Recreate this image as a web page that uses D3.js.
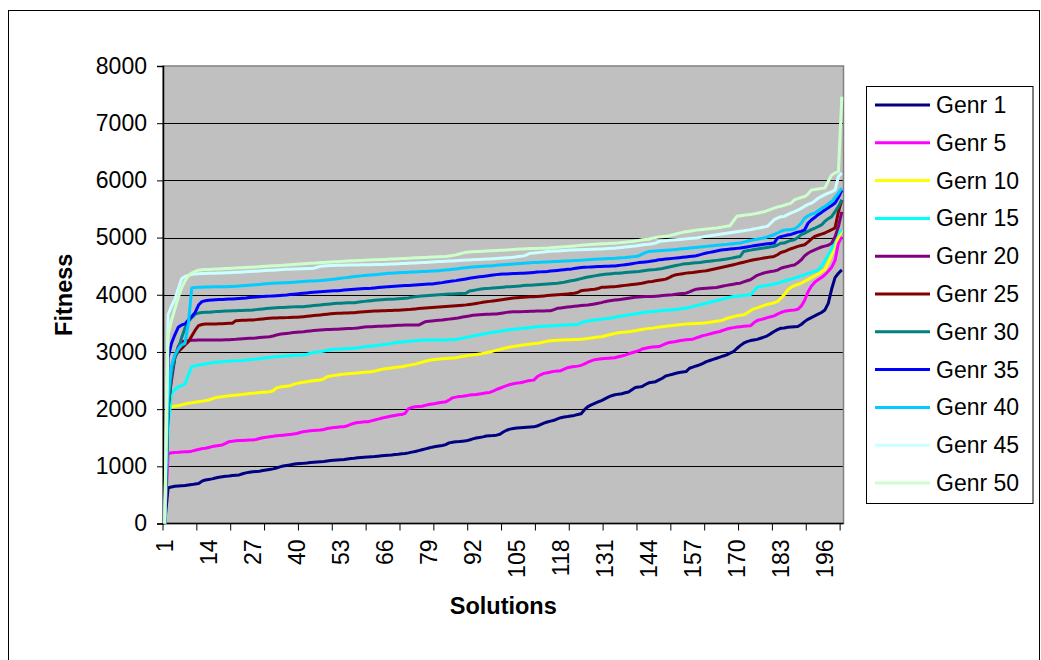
<!DOCTYPE html>
<html><head><meta charset="utf-8">
<script src="https://cdn.jsdelivr.net/npm/d3@7"></script>
<style>
body{margin:0;background:#fff}
svg{display:block}
text{font-family:Arial,"Liberation Sans",sans-serif;fill:#000}
</style>
</head><body>
<svg id="c" width="1041" height="660"></svg>
<script>
const seriesNames = ["Genr 1","Genr 5","Gern 10","Genr 15","Genr 20","Genr 25","Genr 30","Genr 35","Genr 40","Genr 45","Genr 50"];
const seriesColors = ["#000080","#FF00FF","#FFFF00","#00FFFF","#800080","#800000","#008080","#0000FF","#00CCFF","#CCFFFF","#CCFFCC"];
const yTicks = [0,1000,2000,3000,4000,5000,6000,7000,8000];
const xLabels = [1,14,27,40,53,66,79,92,105,118,131,144,157,170,183,196];
const xTickCats = [1,11,21,31,41,51,61,71,81,91,101,111,121,131,141,151,161,171,181,191,201];

const g1 = [0,620,640,650,655,660,665,673,680,690,
700,740,761,770,780,795,810,819,825,830,
838,845,850,870,885,895,905,910,915,925,
935,945,955,970,990,1005,1015,1025,1035,1045,
1050,1053,1058,1065,1070,1075,1080,1085,1092,1100,
1105,1110,1115,1120,1128,1135,1140,1148,1155,1160,
1165,1168,1172,1178,1185,1190,1195,1198,1205,1210,
1218,1225,1235,1248,1260,1275,1290,1305,1320,1335,
1345,1355,1365,1380,1410,1420,1428,1432,1438,1445,
1460,1480,1495,1505,1515,1530,1535,1537,1545,1560,
1600,1631,1650,1660,1668,1675,1680,1685,1688,1690,
1705,1730,1755,1775,1790,1805,1830,1850,1862,1870,
1880,1890,1905,1920,1990,2045,2075,2100,2125,2150,
2180,2210,2235,2250,2262,2270,2285,2300,2340,2378,
2385,2395,2430,2460,2470,2480,2510,2540,2580,2595,
2610,2627,2640,2650,2656,2715,2735,2755,2773,2800,
2831,2850,2870,2890,2910,2930,2948,2980,3007,3060,
3110,3153,3180,3199,3210,3220,3240,3260,3281,3320,
3357,3390,3414,3420,3430,3435,3440,3445,3480,3530,
3570,3600,3630,3660,3690,3734,3850,4100,4300,4376,
4434];
const g5 = [0,1220,1238,1242,1245,1250,1253,1256,1265,1280,
1295,1310,1315,1330,1345,1355,1365,1373,1400,1431,
1440,1445,1450,1452,1455,1458,1460,1470,1485,1500,
1510,1518,1525,1535,1540,1545,1550,1558,1565,1575,
1590,1606,1615,1620,1625,1630,1635,1645,1660,1670,
1678,1685,1690,1693,1710,1735,1752,1765,1772,1778,
1780,1795,1810,1825,1840,1855,1868,1880,1890,1900,
1905,1927,2010,2030,2040,2045,2051,2065,2080,2090,
2098,2110,2120,2127,2160,2197,2210,2220,2226,2235,
2245,2250,2256,2265,2275,2285,2291,2315,2343,2365,
2390,2410,2431,2445,2455,2460,2475,2490,2500,2507,
2565,2600,2625,2635,2650,2660,2668,2672,2700,2725,
2735,2745,2752,2765,2790,2820,2845,2865,2872,2880,
2885,2890,2894,2898,2915,2930,2945,2965,2985,3003,
3020,3050,3065,3079,3085,3090,3094,3120,3145,3165,
3175,3182,3195,3205,3212,3218,3223,3245,3265,3285,
3298,3315,3330,3345,3357,3380,3400,3415,3425,3435,
3442,3448,3452,3456,3510,3549,3565,3580,3600,3615,
3630,3660,3690,3710,3720,3728,3734,3745,3800,3900,
4050,4150,4220,4262,4300,4350,4410,4480,4600,4900,
5016];
const g10 = [0,2030,2040,2050,2060,2075,2090,2102,2110,2120,
2130,2140,2148,2160,2180,2200,2212,2218,2225,2232,
2240,2245,2250,2258,2265,2272,2277,2283,2290,2296,
2300,2305,2320,2370,2385,2395,2402,2410,2430,2450,
2460,2470,2480,2490,2497,2505,2510,2530,2565,2580,
2590,2597,2605,2612,2618,2622,2627,2633,2640,2645,
2650,2655,2665,2680,2695,2705,2712,2720,2728,2735,
2740,2755,2765,2775,2787,2805,2820,2838,2850,2862,
2869,2875,2880,2885,2890,2895,2898,2910,2922,2932,
2940,2945,2955,2965,2975,2986,3000,3015,3032,3045,
3060,3073,3085,3095,3105,3115,3122,3130,3138,3145,
3152,3162,3175,3188,3195,3200,3205,3208,3210,3212,
3214,3216,3218,3220,3228,3237,3245,3252,3260,3266,
3280,3295,3310,3324,3335,3342,3348,3354,3362,3372,
3383,3393,3403,3412,3415,3425,3435,3442,3450,3456,
3462,3470,3476,3482,3488,3491,3495,3498,3501,3503,
3510,3518,3528,3538,3544,3560,3585,3602,3618,3632,
3642,3649,3680,3720,3755,3770,3790,3815,3830,3845,
3860,3880,3940,4000,4080,4130,4160,4180,4200,4235,
4265,4300,4330,4360,4400,4440,4560,4700,4900,5000,
5135];
const g15 = [0,1700,2280,2335,2393,2410,2440,2600,2743,2760,
2770,2780,2790,2800,2810,2820,2825,2830,2835,2840,
2843,2845,2848,2852,2858,2865,2870,2875,2882,2890,
2898,2905,2910,2915,2920,2925,2930,2935,2940,2943,
2946,2948,2960,2975,2990,3000,3005,3015,3030,3040,
3045,3047,3052,3056,3060,3062,3064,3072,3080,3090,
3098,3104,3110,3118,3125,3132,3139,3150,3160,3168,
3175,3180,3188,3192,3196,3200,3204,3207,3208,3208,
3208,3208,3208,3208,3212,3216,3219,3230,3242,3255,
3266,3278,3290,3302,3314,3324,3335,3345,3354,3362,
3372,3383,3390,3396,3402,3408,3412,3420,3428,3436,
3441,3445,3449,3453,3456,3460,3463,3466,3469,3471,
3474,3477,3482,3510,3530,3540,3550,3558,3565,3573,
3580,3587,3595,3607,3618,3628,3638,3648,3656,3663,
3675,3686,3695,3704,3707,3712,3718,3724,3730,3734,
3736,3742,3750,3758,3765,3780,3795,3810,3824,3838,
3852,3868,3882,3898,3912,3928,3944,3958,3968,3975,
3981,3988,3994,3999,4060,4133,4145,4155,4165,4174,
4188,4200,4220,4240,4258,4270,4290,4310,4330,4349,
4370,4390,4410,4434,4500,4600,4700,4800,5000,5080,
5137];
const g20 = [0,2050,2500,2900,3093,3180,3190,3197,3203,3206,
3208,3209,3210,3210,3210,3210,3210,3210,3212,3215,
3218,3221,3226,3230,3235,3238,3240,3245,3252,3258,
3263,3267,3280,3295,3310,3318,3324,3330,3338,3345,
3350,3355,3362,3368,3374,3380,3384,3388,3391,3393,
3395,3396,3400,3404,3408,3412,3414,3420,3428,3435,
3440,3442,3445,3448,3450,3452,3454,3458,3462,3466,
3468,3470,3470,3470,3470,3470,3500,3529,3535,3542,
3548,3554,3558,3566,3574,3582,3587,3598,3610,3620,
3630,3640,3646,3650,3654,3658,3660,3662,3663,3672,
3682,3692,3700,3704,3704,3704,3705,3708,3710,3713,
3716,3717,3718,3720,3721,3740,3762,3770,3778,3785,
3792,3798,3804,3810,3815,3821,3830,3840,3850,3862,
3879,3890,3900,3908,3914,3920,3930,3940,3949,3955,
3960,3967,3968,3969,3970,3975,3980,3986,3992,3996,
3999,4008,4016,4022,4028,4050,4075,4098,4104,4110,
4115,4120,4124,4127,4140,4152,4164,4174,4184,4195,
4203,4225,4245,4262,4300,4340,4360,4380,4395,4405,
4415,4430,4463,4480,4495,4510,4521,4560,4609,4680,
4726,4760,4785,4810,4835,4850,4865,4900,5016,5191,
5450];
const g25 = [0,2000,2600,2918,3005,3060,3122,3180,3280,3380,
3460,3480,3489,3489,3490,3490,3492,3495,3498,3500,
3501,3547,3550,3552,3555,3557,3559,3565,3572,3578,
3584,3589,3592,3595,3597,3599,3600,3602,3605,3608,
3612,3617,3623,3630,3636,3642,3647,3653,3660,3666,
3672,3676,3678,3680,3683,3685,3687,3692,3697,3702,
3707,3711,3714,3717,3720,3722,3724,3726,3728,3730,
3733,3736,3740,3746,3752,3758,3764,3770,3774,3778,
3782,3786,3790,3795,3800,3805,3809,3813,3818,3823,
3830,3838,3848,3858,3867,3876,3884,3892,3900,3908,
3916,3926,3936,3944,3949,3953,3956,3960,3964,3967,
3970,3975,3980,3986,3991,3996,4000,4005,4010,4015,
4020,4025,4040,4072,4078,4084,4090,4095,4110,4130,
4133,4136,4139,4142,4150,4157,4164,4171,4178,4185,
4192,4200,4215,4229,4233,4243,4253,4263,4273,4300,
4330,4349,4358,4368,4378,4385,4390,4398,4406,4413,
4419,4432,4445,4458,4471,4484,4498,4512,4526,4540,
4554,4568,4583,4598,4612,4622,4632,4642,4652,4662,
4670,4700,4740,4755,4780,4805,4825,4846,4860,4875,
4920,4974,5020,5040,5060,5079,5110,5137,5170,5450,
5660];
const g30 = [0,2000,2600,2900,3050,3250,3420,3530,3600,3660,
3680,3688,3692,3696,3700,3705,3708,3711,3714,3717,
3719,3721,3723,3726,3729,3731,3734,3740,3746,3752,
3758,3763,3767,3771,3775,3779,3782,3785,3788,3790,
3791,3792,3798,3804,3810,3816,3822,3828,3834,3840,
3846,3851,3853,3855,3858,3860,3862,3870,3877,3884,
3891,3897,3902,3907,3912,3916,3920,3922,3925,3930,
3935,3940,3945,3955,3967,3972,3977,3982,3987,3992,
3996,4000,4004,4008,4012,4015,4018,4020,4022,4025,
4066,4075,4085,4095,4103,4110,4113,4118,4123,4128,
4133,4138,4142,4146,4150,4155,4160,4165,4168,4171,
4175,4180,4184,4188,4193,4197,4200,4210,4220,4232,
4245,4255,4268,4282,4296,4310,4320,4330,4340,4350,
4358,4363,4368,4374,4378,4382,4387,4392,4398,4404,
4408,4416,4425,4432,4436,4440,4450,4460,4472,4484,
4497,4510,4523,4536,4542,4548,4554,4560,4565,4572,
4580,4587,4594,4601,4609,4616,4624,4636,4648,4660,
4670,4758,4768,4780,4790,4799,4808,4818,4828,4838,
4846,4870,4900,4904,4930,4950,4962,5000,5050,5075,
5108,5140,5163,5190,5221,5283,5330,5366,5453,5540,
5660];
const g35 = [0,2900,3150,3300,3430,3472,3490,3560,3620,3690,
3820,3880,3895,3902,3908,3912,3915,3918,3921,3924,
3927,3930,3934,3938,3943,3950,3956,3960,3964,3968,
3972,3976,3980,3984,3988,3993,3997,4003,4009,4015,
4021,4026,4032,4038,4043,4049,4054,4058,4062,4066,
4070,4072,4076,4081,4086,4091,4096,4100,4104,4108,
4111,4114,4120,4126,4131,4136,4142,4146,4150,4153,
4156,4160,4163,4166,4170,4174,4178,4182,4186,4189,
4196,4204,4212,4222,4232,4240,4247,4257,4267,4277,
4287,4296,4305,4313,4321,4329,4337,4345,4352,4358,
4361,4364,4367,4370,4373,4375,4376,4381,4386,4391,
4396,4400,4404,4408,4414,4420,4426,4432,4438,4444,
4448,4458,4468,4475,4479,4483,4487,4491,4493,4495,
4497,4499,4501,4504,4511,4518,4525,4533,4543,4553,
4562,4568,4574,4580,4590,4600,4612,4618,4624,4630,
4636,4641,4648,4655,4662,4668,4675,4682,4698,4714,
4729,4741,4753,4765,4777,4787,4793,4799,4805,4811,
4816,4826,4836,4846,4856,4866,4875,4882,4890,4897,
4904,4992,5016,5030,5045,5055,5075,5095,5108,5133,
5250,5308,5350,5400,5440,5483,5520,5560,5604,5700,
5830];
const g40 = [0,2200,2750,2950,3050,3120,3151,3500,4120,4128,
4131,4133,4135,4137,4139,4140,4141,4142,4142,4143,
4145,4148,4152,4156,4161,4166,4171,4176,4181,4186,
4191,4196,4200,4204,4207,4210,4212,4215,4219,4223,
4227,4231,4235,4239,4242,4245,4247,4252,4258,4265,
4272,4280,4288,4295,4302,4310,4318,4325,4330,4335,
4340,4345,4350,4356,4362,4368,4374,4378,4382,4386,
4389,4391,4393,4396,4399,4402,4405,4408,4411,4414,
4416,4421,4427,4433,4439,4445,4451,4458,4466,4474,
4481,4485,4489,4493,4497,4501,4504,4509,4514,4519,
4524,4529,4533,4537,4541,4546,4550,4554,4558,4562,
4565,4568,4571,4574,4577,4580,4583,4586,4589,4592,
4595,4597,4601,4605,4609,4613,4617,4621,4624,4627,
4630,4633,4636,4638,4642,4646,4650,4656,4663,4670,
4679,4710,4738,4755,4760,4765,4770,4774,4778,4783,
4787,4793,4799,4805,4810,4816,4822,4828,4834,4840,
4846,4852,4858,4864,4870,4875,4881,4887,4893,4899,
4904,4920,4935,4950,4962,4972,4982,4992,5012,5032,
5050,5080,5110,5130,5137,5140,5150,5191,5250,5338,
5380,5410,5425,5470,5510,5541,5590,5629,5700,5775,
5865];
const g45 = [0,3650,3800,3920,4100,4280,4320,4340,4355,4365,
4368,4370,4372,4374,4376,4378,4380,4382,4384,4386,
4389,4392,4395,4398,4401,4405,4409,4413,4417,4421,
4424,4427,4430,4433,4436,4440,4444,4447,4450,4452,
4454,4456,4458,4460,4463,4480,4500,4504,4507,4510,
4512,4514,4516,4518,4519,4520,4521,4522,4523,4524,
4525,4526,4527,4528,4530,4532,4533,4536,4539,4542,
4545,4548,4551,4554,4557,4560,4563,4566,4569,4572,
4576,4580,4583,4586,4589,4592,4595,4598,4602,4606,
4609,4612,4615,4618,4621,4624,4627,4631,4635,4639,
4643,4647,4650,4656,4664,4672,4680,4700,4726,4731,
4736,4741,4747,4755,4759,4763,4767,4771,4775,4778,
4781,4784,4786,4788,4790,4792,4794,4796,4799,4802,
4805,4808,4811,4814,4820,4827,4834,4841,4848,4854,
4862,4870,4877,4884,4893,4903,4933,4939,4945,4951,
4957,4962,4967,4972,4977,4982,4987,4992,5002,5012,
5022,5032,5042,5050,5058,5066,5075,5083,5091,5100,
5110,5120,5130,5137,5149,5161,5173,5185,5196,5250,
5312,5340,5366,5370,5400,5430,5453,5480,5510,5546,
5580,5600,5640,5688,5720,5750,5775,5800,5833,6066,
6130];
const g50 = [0,3300,3550,3750,3950,4120,4240,4330,4380,4410,
4430,4436,4440,4443,4446,4449,4452,4455,4458,4461,
4464,4467,4470,4473,4476,4479,4481,4485,4489,4493,
4497,4501,4505,4509,4513,4517,4521,4525,4529,4533,
4537,4541,4545,4549,4553,4557,4562,4565,4569,4572,
4575,4579,4582,4586,4589,4593,4596,4599,4601,4603,
4606,4609,4611,4613,4616,4618,4621,4624,4627,4630,
4633,4636,4639,4642,4645,4648,4650,4653,4656,4659,
4662,4664,4666,4668,4678,4688,4697,4712,4728,4743,
4747,4751,4755,4758,4762,4765,4768,4771,4774,4777,
4780,4784,4788,4791,4795,4798,4802,4806,4808,4809,
4810,4811,4812,4814,4820,4826,4831,4836,4841,4845,
4850,4854,4859,4864,4869,4874,4879,4884,4887,4890,
4893,4896,4899,4901,4907,4913,4919,4925,4930,4940,
4950,4960,4966,4971,4990,5000,5008,5016,5024,5032,
5047,5062,5077,5091,5100,5110,5120,5130,5137,5143,
5149,5155,5161,5167,5177,5187,5197,5207,5290,5371,
5380,5390,5398,5402,5414,5426,5438,5450,5470,5492,
5514,5536,5546,5565,5585,5600,5658,5680,5700,5716,
5760,5833,5840,5850,5860,5867,5984,6095,6130,6154,
7465];

const seriesValues = [g1,g5,g10,g15,g20,g25,g30,g35,g40,g45,g50];
const nPoints = 201;
const categories = d3.range(1, nPoints + 1);
seriesValues.forEach((s,k)=>{ if (s.length !== nPoints) throw new Error(seriesNames[k]+" has "+s.length+" values"); });

const FS = 23;
const svg = d3.select("#c");
const L = 163, R = 843.5, T = 66, B = 523.5;

const x = d3.scaleBand().domain(categories).range([L, R]).padding(0);
const bw = x.bandwidth();
const cx = c => x(c) + bw / 2;
const y = d3.scaleLinear().domain([0, 8000]).range([B, T]);

// outer chart frame
svg.append("rect").attr("x", 8.5).attr("y", 10.5).attr("width", 1031).attr("height", 700)
  .attr("fill", "#fff").attr("stroke", "#000").attr("stroke-width", 1);

// plot area
svg.append("rect").attr("x", L).attr("y", T).attr("width", R - L).attr("height", B - T)
  .attr("fill", "#C0C0C0");

// gridlines
svg.append("g").selectAll("line").data(yTicks.filter(v => v > 0 && v < 8000)).join("line")
  .attr("x1", L).attr("x2", R).attr("y1", d => Math.round(y(d)) + 0.5).attr("y2", d => Math.round(y(d)) + 0.5)
  .attr("stroke", "#000").attr("stroke-width", 1);

// plot border
svg.append("rect").attr("x", L).attr("y", T).attr("width", R - L).attr("height", B - T)
  .attr("fill", "none").attr("stroke", "#808080").attr("stroke-width", 1.5);

// y axis
const yAxis = d3.axisLeft(y).tickValues(yTicks).tickSize(6).tickPadding(10).tickFormat(d3.format("d"));
const gy = svg.append("g").attr("transform", `translate(${L},0)`).call(yAxis);
gy.select(".domain").attr("stroke", "#000").attr("stroke-width", 1.5);
gy.selectAll(".tick line").attr("stroke", "#000");
gy.selectAll(".tick text").attr("font-size", FS).attr("font-family", "Arial, 'Liberation Sans', sans-serif").attr("fill", "#000");

// x axis line
svg.append("line").attr("x1", L).attr("x2", R).attr("y1", B).attr("y2", B).attr("stroke", "#000").attr("stroke-width", 1.5);
// x tick marks at category boundaries every 10
svg.append("g").selectAll("line").data(xTickCats).join("line")
  .attr("x1", d => x(d)).attr("x2", d => x(d)).attr("y1", B).attr("y2", B + 7)
  .attr("stroke", "#000").attr("stroke-width", 1);
// x labels
svg.append("g").selectAll("text").data(xLabels).join("text")
  .attr("transform", d => `translate(${cx(d)},${B + 16}) rotate(-90)`)
  .attr("text-anchor", "end").attr("dominant-baseline", "central")
  .attr("font-size", FS).text(d => d);

// series lines
const line = d3.line().x((d, i) => cx(categories[i])).y(d => y(d));
svg.append("g").selectAll("path").data(seriesValues).join("path")
  .attr("d", d => line(d)).attr("fill", "none")
  .attr("stroke", (d, i) => seriesColors[i]).attr("stroke-width", 3)
  .attr("stroke-linejoin", "round").attr("stroke-linecap", "butt");

// axis titles
svg.append("text").attr("transform", `translate(72,${(T + B) / 2}) rotate(-90)`)
  .attr("text-anchor", "middle").attr("font-size", FS + 0.5).attr("font-weight", "bold").text("Fitness");
svg.append("text").attr("x", (L + R) / 2).attr("y", 614)
  .attr("text-anchor", "middle").attr("font-size", FS + 0.5).attr("font-weight", "bold").text("Solutions");

// legend
const lg = svg.append("g");
lg.append("rect").attr("x", 866.5).attr("y", 86.5).attr("width", 166.5).attr("height", 417)
  .attr("fill", "#fff").attr("stroke", "#000").attr("stroke-width", 1);
const rows = lg.selectAll("g.row").data(seriesNames).join("g").attr("class", "row")
  .attr("transform", (d, i) => `translate(0,${105 + i * 37.8})`);
rows.append("line").attr("x1", 875).attr("x2", 930).attr("y1", 0).attr("y2", 0)
  .attr("stroke", (d, i) => seriesColors[i]).attr("stroke-width", 3);
rows.append("text").attr("x", 936).attr("y", 0).attr("dominant-baseline", "central")
  .attr("font-size", FS).text(d => d);
</script>
</body></html>
